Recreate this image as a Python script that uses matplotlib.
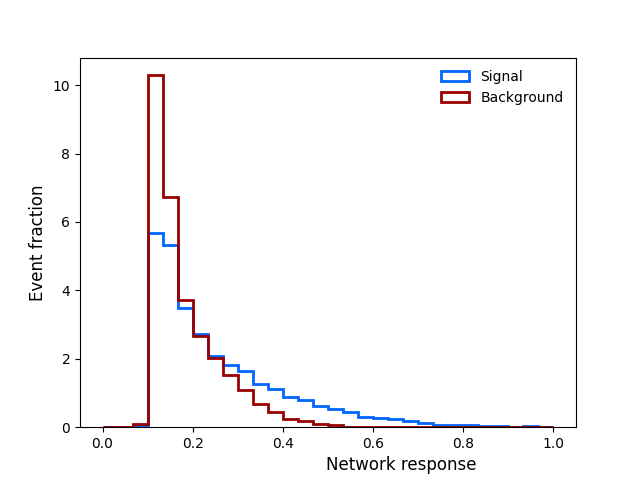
import numpy as np
import matplotlib
matplotlib.use('Agg')
import matplotlib.pyplot as plt

# 30 bins over [0, 1], density-normalised
bin_edges = np.linspace(0.0, 1.0, 31)

signal = [0.0, 0.0, 0.03, 5.69, 5.32, 3.47, 2.71, 2.08, 1.81, 1.65,
          1.26, 1.13, 0.87, 0.79, 0.61, 0.54, 0.44, 0.31, 0.27, 0.24,
          0.17, 0.11, 0.07, 0.05, 0.05, 0.03, 0.03, 0.01, 0.04, 0.01]
background = [0.0, 0.0, 0.09, 10.29, 6.73, 3.71, 2.66, 2.03, 1.52, 1.08,
              0.69, 0.43, 0.25, 0.18, 0.09, 0.05, 0.02, 0.02, 0.01, 0.01,
              0.01, 0.01, 0.01, 0.01, 0.01, 0.01, 0.01, 0.01, 0.01, 0.0]

centers = 0.5 * (bin_edges[:-1] + bin_edges[1:])

fig, ax = plt.subplots(figsize=(6.4, 4.8), dpi=100)
ax.hist(centers, bins=bin_edges, weights=signal, histtype='step',
        color='#0066ff', linewidth=2, label='Signal')
ax.hist(centers, bins=bin_edges, weights=background, histtype='step',
        color='#990000', linewidth=2, label='Background')

ax.set_xlabel('Network response', fontsize=12, x=0.8, ha='right')
ax.set_ylabel('Event fraction', fontsize=12)
ax.legend(frameon=False, loc='upper right')

fig.savefig('out.png', dpi=100)
